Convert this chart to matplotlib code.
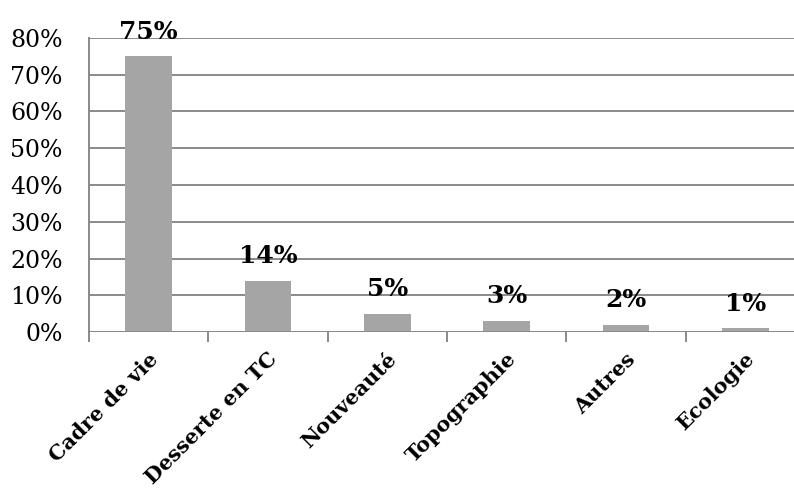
import matplotlib.pyplot as plt
from matplotlib.ticker import PercentFormatter
import matplotlib.transforms as mtransforms

categories = ['Cadre de vie', 'Desserte en TC', 'Nouveauté', 'Topographie', 'Autres', 'Ecologie']
values = [75, 14, 5, 3, 2, 1]
yticks = [0, 10, 20, 30, 40, 50, 60, 70, 80]

plt.rcParams['font.family'] = ['DejaVu Serif']

fig = plt.figure(figsize=(7.94, 4.91), dpi=100)
# plot area runs past the right edge, as in the original crop
ax = fig.add_axes([89 / 794, 1 - 332 / 491, 716 / 794, 294 / 491])

x = range(len(categories))
ax.bar(x, values, width=0.39, color='#a5a5a5', zorder=3)

ax.set_xlim(-0.5, len(categories) - 0.5)
ax.set_ylim(0, 80)
ax.set_yticks(yticks)
ax.yaxis.set_major_formatter(PercentFormatter(decimals=0))
ax.grid(axis='y', color='#8a8a8a', linewidth=1.4, zorder=0)
ax.tick_params(axis='y', length=0, labelsize=17, pad=19)

for s in ['top', 'right', 'bottom']:
    ax.spines[s].set_visible(False)
ax.spines['left'].set_color('#8a8a8a')
ax.spines['left'].set_linewidth(1.4)
ax.axhline(0, color='#8a8a8a', linewidth=1.4, zorder=4)

# category separators below the axis
ax.set_xticks([i - 0.5 for i in range(len(categories) + 1)], minor=True)
ax.set_xticks([])
ax.tick_params(axis='x', which='minor', length=7, color='#8a8a8a', width=1.4, labelbottom=False)

offset = mtransforms.ScaledTranslation(6 / 100, -24 / 100, fig.dpi_scale_trans)
for i, c in enumerate(categories):
    ax.text(i, 0, c, rotation=45, rotation_mode='anchor', ha='right', va='center',
            fontsize=15, fontweight='bold', transform=ax.transData + offset)

for i, v in enumerate(values):
    ax.annotate(f'{v}%', (i, v), xytext=(0, 9), textcoords='offset points',
                ha='center', va='bottom', fontsize=18, fontweight='bold', zorder=5)

fig.savefig('out.png', dpi=100)
